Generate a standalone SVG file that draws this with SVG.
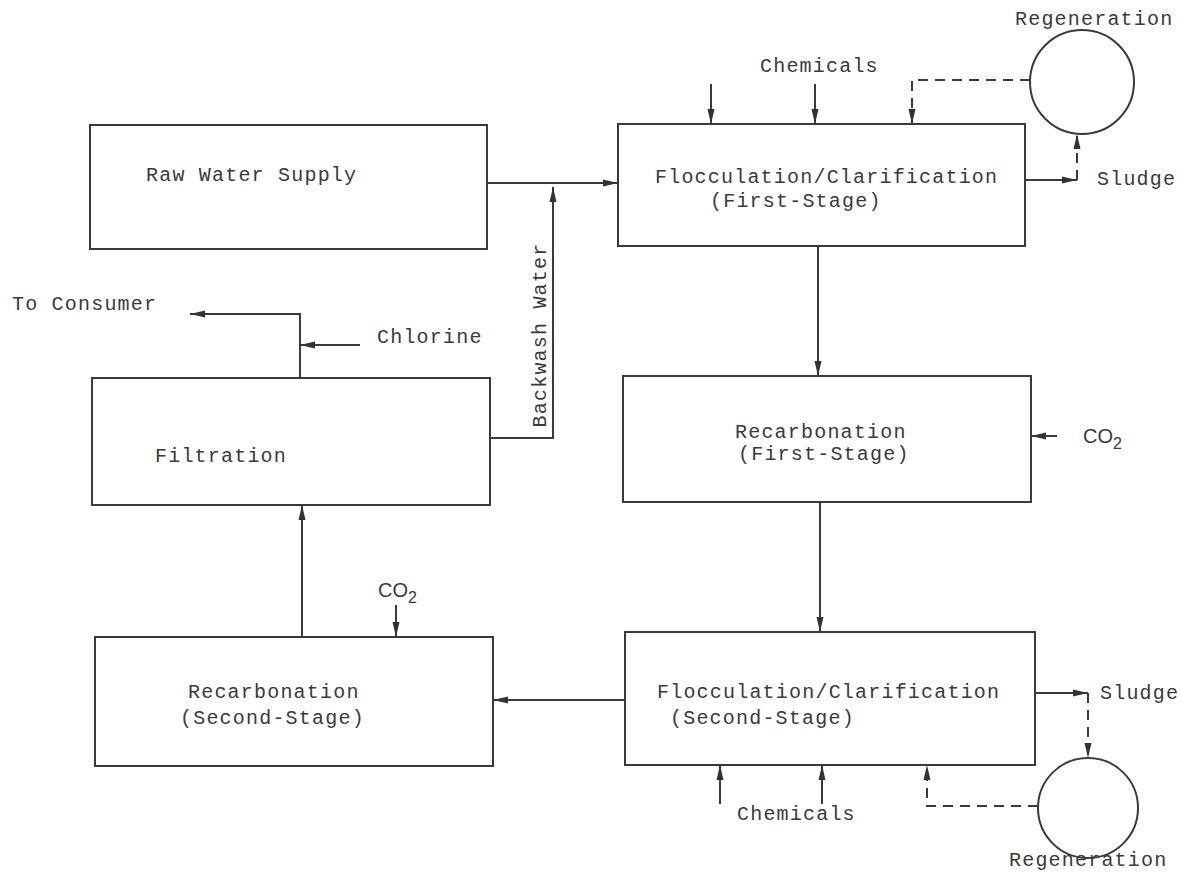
<svg xmlns="http://www.w3.org/2000/svg" width="1182" height="873" viewBox="0 0 1182 873">
  <style>
    .box { fill: none; stroke: #3a3a3a; stroke-width: 2; }
    .ln { fill: none; stroke: #3a3a3a; stroke-width: 2; }
    .dash { fill: none; stroke: #3a3a3a; stroke-width: 2; stroke-dasharray: 10 7; }
    .t { font-family: "Liberation Mono", "DejaVu Sans Mono", monospace; font-size: 20px; letter-spacing: 1.2px; fill: #3a3a3a; }
    .s { font-family: "Liberation Sans", Arial, sans-serif; font-size: 20px; fill: #3a3a3a; }
  </style>
  <defs>
    <marker id="arr" markerUnits="userSpaceOnUse" markerWidth="16" markerHeight="10" refX="15" refY="4" orient="auto">
      <path d="M0,0.5 L15,4 L0,7.5 z" fill="#333"/>
    </marker>
  </defs>
  <rect width="1182" height="873" fill="#ffffff"/>

  <g id="raw-water">
    <rect class="box" x="90" y="125" width="397" height="124"/>
    <text class="t" x="146" y="181">Raw Water Supply</text>
  </g>

  <g id="floc-first">
    <rect class="box" x="618" y="124" width="407" height="122"/>
    <text class="t" x="655" y="183">Flocculation/Clarification</text>
    <text class="t" x="710" y="207">(First-Stage)</text>
  </g>

  <g id="regen-top">
    <circle class="box" cx="1082" cy="82" r="52"/>
    <text class="t" x="1015" y="25">Regeneration</text>
  </g>

  <g id="recarb-first">
    <rect class="box" x="623" y="376" width="408" height="126"/>
    <text class="t" x="735" y="438">Recarbonation</text>
    <text class="t" x="738" y="460">(First-Stage)</text>
  </g>

  <g id="floc-second">
    <rect class="box" x="625" y="632" width="410" height="133"/>
    <text class="t" x="657" y="698">Flocculation/Clarification</text>
    <text class="t" x="670" y="724">(Second-Stage)</text>
  </g>

  <g id="regen-bottom">
    <circle class="box" cx="1088" cy="808" r="50"/>
    <text class="t" x="1009" y="866">Regeneration</text>
  </g>

  <g id="recarb-second">
    <rect class="box" x="95" y="637" width="398" height="129"/>
    <text class="t" x="188" y="698">Recarbonation</text>
    <text class="t" x="180" y="724">(Second-Stage)</text>
  </g>

  <g id="filtration">
    <rect class="box" x="92" y="378" width="398" height="127"/>
    <text class="t" x="155" y="462">Filtration</text>
  </g>

  <g id="labels">
    <text class="t" x="760" y="72">Chemicals</text>
    <text class="t" x="1097" y="185">Sludge</text>
    <text class="s" x="1083" y="443">CO<tspan font-size="16" dy="6">2</tspan></text>
    <text class="t" x="1100" y="699">Sludge</text>
    <text class="t" x="737" y="820">Chemicals</text>
    <text class="s" x="378" y="597">CO<tspan font-size="16" dy="6">2</tspan></text>
    <text class="t" x="12" y="310">To Consumer</text>
    <text class="t" x="377" y="343">Chlorine</text>
    <text class="t" transform="translate(546,335) rotate(-90)" text-anchor="middle">Backwash Water</text>
  </g>

  <g id="connectors">
    <!-- main treatment train -->
    <line class="ln" x1="487" y1="183" x2="618" y2="183" marker-end="url(#arr)"/>
    <line class="ln" x1="818" y1="246" x2="818" y2="376" marker-end="url(#arr)"/>
    <line class="ln" x1="820" y1="502" x2="820" y2="632" marker-end="url(#arr)"/>
    <line class="ln" x1="625" y1="700" x2="493" y2="700" marker-end="url(#arr)"/>
    <line class="ln" x1="302" y1="637" x2="302" y2="505" marker-end="url(#arr)"/>
    <!-- product water -->
    <polyline class="ln" points="300,378 300,314 190,314" marker-end="url(#arr)"/>
    <line class="ln" x1="360" y1="345" x2="300" y2="345" marker-end="url(#arr)"/>
    <!-- backwash return -->
    <polyline class="ln" points="490,438 553,438 553,187" marker-end="url(#arr)"/>
    <!-- first-stage feeds -->
    <line class="ln" x1="711" y1="84" x2="711" y2="124" marker-end="url(#arr)"/>
    <line class="ln" x1="815" y1="84" x2="815" y2="124" marker-end="url(#arr)"/>
    <polyline class="dash" points="1030,80 912,80 912,124" marker-end="url(#arr)"/>
    <line class="ln" x1="1025" y1="180" x2="1077" y2="180" marker-end="url(#arr)"/>
    <line class="dash" x1="1077" y1="180" x2="1077" y2="134" marker-end="url(#arr)"/>
    <line class="ln" x1="1057" y1="436" x2="1031" y2="436" marker-end="url(#arr)"/>
    <!-- second-stage feeds -->
    <line class="ln" x1="720" y1="804" x2="720" y2="765" marker-end="url(#arr)"/>
    <line class="ln" x1="822" y1="804" x2="822" y2="765" marker-end="url(#arr)"/>
    <polyline class="dash" points="1038,806 927,806 927,765" marker-end="url(#arr)"/>
    <line class="ln" x1="1035" y1="693" x2="1088" y2="693" marker-end="url(#arr)"/>
    <line class="dash" x1="1088" y1="693" x2="1088" y2="758" marker-end="url(#arr)"/>
    <line class="ln" x1="396" y1="605" x2="396" y2="637" marker-end="url(#arr)"/>
  </g>
</svg>
